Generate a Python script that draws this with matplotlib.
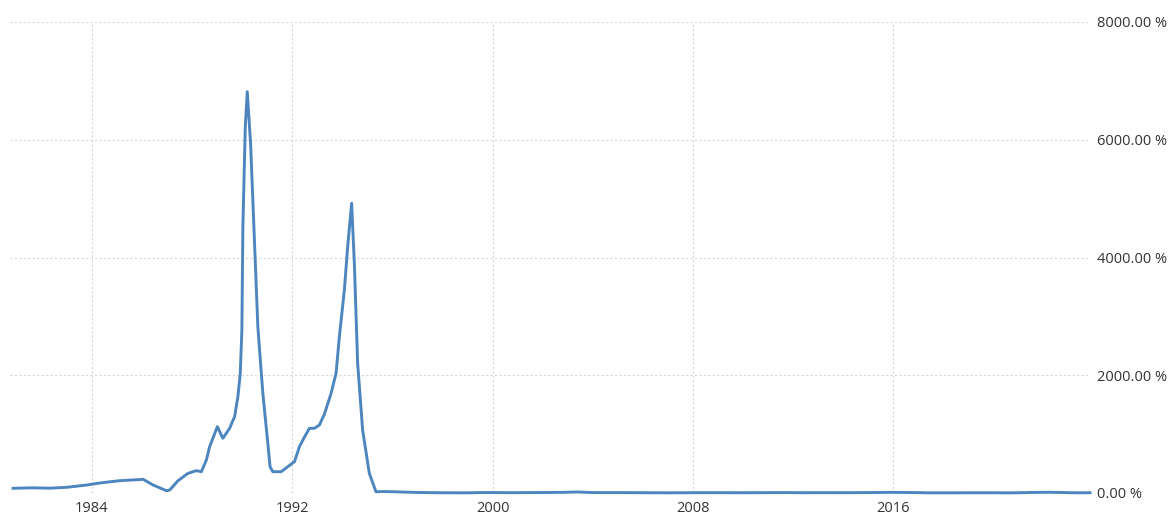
import matplotlib
matplotlib.use("Agg")
import matplotlib.pyplot as plt

# Decimal years and inflation rate (%)
years = [1980.853, 1981.649, 1982.327, 1983.004, 1983.801, 1984.319, 1984.996, 1985.116,
         1986.044, 1986.442, 1986.976, 1987.108, 1987.438, 1987.837, 1988.171, 1988.371,
         1988.570, 1988.701, 1989.008, 1989.231, 1989.498, 1989.697, 1989.829, 1989.924,
         1989.988, 1990.028, 1990.124, 1990.203, 1990.335, 1990.494, 1990.625, 1990.825,
         1991.024, 1991.112, 1991.223, 1991.558, 1991.821, 1992.088, 1992.287, 1992.486,
         1992.685, 1992.884, 1993.084, 1993.283, 1993.550, 1993.749, 1993.880, 1994.080,
         1994.211, 1994.371, 1994.478, 1994.610, 1994.809, 1995.076, 1995.343, 1995.6,
         1996.0, 1996.5, 1997.0, 1998.0, 1999.0, 1999.5, 2000.0, 2000.5, 2001.0, 2002.0,
         2002.8, 2003.4, 2004.0, 2005.0, 2006.0, 2007.0, 2008.0, 2008.8, 2009.5,
         2010.0, 2011.0, 2011.7, 2012.5, 2013.0, 2014.0, 2015.0, 2015.9, 2016.5,
         2017.5, 2018.0, 2019.0, 2020.0, 2020.5, 2021.0, 2021.8, 2022.3, 2023.0,
         2023.5, 2023.85]
inflation = [80, 88, 82, 97, 136, 170, 204, 209,
             232, 136, 39, 51, 209, 334, 379, 362,
             560, 787, 1126, 929, 1099, 1296, 1636, 2033,
             2769, 4523, 6221, 6816, 5940, 4241, 2825, 1693,
             844, 447, 362, 362, 447, 532, 787, 950,
             1099, 1099, 1155, 1340, 1693, 2033, 2655, 3448,
             4183, 4921, 3901, 2203, 1070, 334, 20, 25,
             22, 15, 9, 4, 3, 7, 8, 6, 6, 8,
             11, 17, 7, 7, 5, 3, 5, 6.4, 4.8,
             4.6, 6, 7.3, 5, 6.2, 5.6, 7.1, 10.7, 8.8,
             2.7, 2.9, 3.8, 4.2, 2.1, 4.6, 10.7, 12.1, 5.8,
             3.2, 4.8]

x_ticks = [1984, 1992, 2000, 2008, 2016]
y_ticks = [0, 2000, 4000, 6000, 8000]
y_labels = ["0.00 %", "2000.00 %", "4000.00 %", "6000.00 %", "8000.00 %"]

W, H = 1173, 521
fig = plt.figure(figsize=(W / 100, H / 100), dpi=100)
ax = fig.add_axes([10 / W, (H - 493) / H, (1090 - 10) / W, (493 - 22) / H])

ax.plot(years, inflation, color="#4d86bf", linewidth=2.1, clip_on=False,
        solid_joinstyle="round", zorder=3)

ax.set_xlim(1980.73, 2023.85)
ax.set_ylim(0, 8000)

ax.set_xticks(x_ticks)
ax.set_xticklabels([str(t) for t in x_ticks])
ax.set_yticks(y_ticks)
ax.set_yticklabels(y_labels)
ax.yaxis.tick_right()

for sp in ax.spines.values():
    sp.set_visible(False)

ax.tick_params(axis="both", length=0, labelsize=10.5, labelcolor="#333333")
ax.tick_params(axis="x", pad=6)
ax.tick_params(axis="y", pad=5)
for lab in ax.get_xticklabels() + ax.get_yticklabels():
    lab.set_fontfamily("Open Sans")

ax.grid(True, linestyle=(0, (2, 2)), color="#d6d6d6", linewidth=0.8, zorder=0)

fig.savefig("out.png", dpi=100, facecolor="white")
